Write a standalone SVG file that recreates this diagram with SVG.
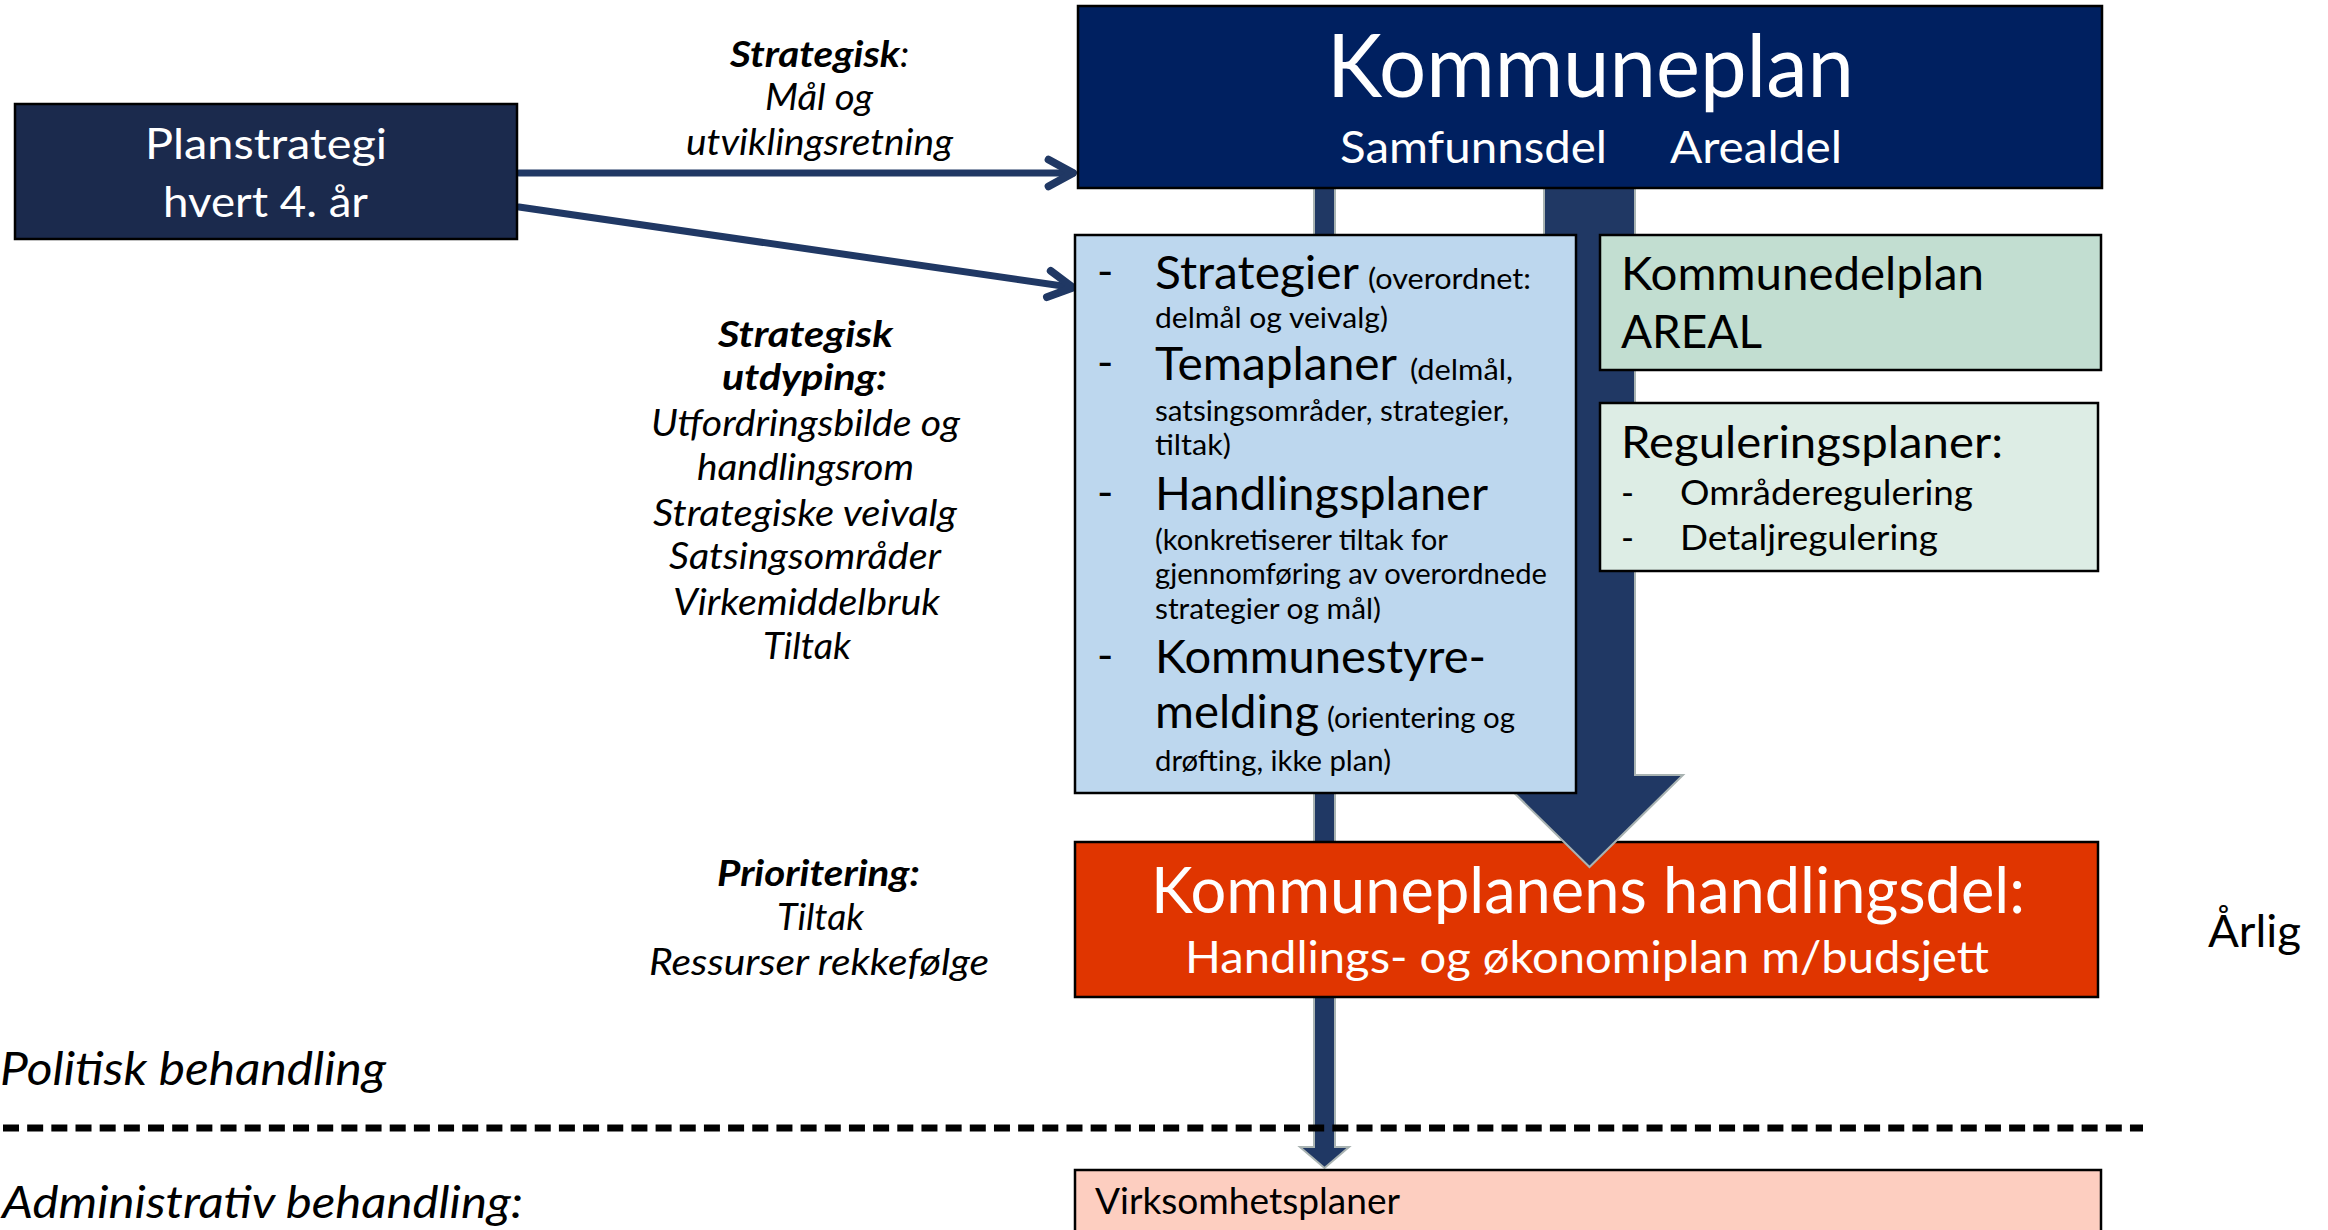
<svg xmlns="http://www.w3.org/2000/svg" width="2328" height="1230" viewBox="0 0 2328 1230">
<style>
text{font-family:Lato,"Liberation Sans",sans-serif;fill:#000}
.w{fill:#fff}
.i{font-style:italic}
.b{font-weight:bold}
.box{stroke:#000;stroke-width:2.5}
.conn{fill:none;stroke:#203864;stroke-width:7;stroke-linecap:round}
.bar{fill:#203864;stroke:#A9B3B2;stroke-width:2}
</style>
<defs>
<marker id="chev" markerUnits="userSpaceOnUse" markerWidth="50" markerHeight="50" viewBox="-35 -20 45 40" refX="0" refY="0" orient="auto">
<path d="M-22,-12 L0,0 L-22,12" fill="none" stroke="#203864" stroke-width="7" stroke-linecap="round" stroke-linejoin="round"/>
</marker>
</defs>
<rect width="2328" height="1230" fill="#fff"/>

<g id="connectors">
<polygon id="arrow-thin" class="bar" points="1314,188 1335,188 1335,1147 1349,1147 1324.5,1168 1300,1147 1314,1147"/>
<line id="dash-divider" x1="3" y1="1128" x2="2143" y2="1128" stroke="#000" stroke-width="7" stroke-dasharray="16 8.17"/>
<line id="arrow-goal" class="conn" x1="519" y1="173" x2="1073" y2="173" marker-end="url(#chev)"/>
<line id="arrow-depth" class="conn" x1="519" y1="207" x2="1073" y2="287.5" marker-end="url(#chev)"/>
</g>

<g id="node-handlingsdel">
<rect class="box" x="1075" y="842" width="1023" height="155" fill="#E03500"/>
<text class="w" x="1151" y="913" font-size="63" textLength="874" lengthAdjust="spacingAndGlyphs">Kommuneplanens handlingsdel:</text>
<text class="w" x="1185" y="973" font-size="45" textLength="804" lengthAdjust="spacingAndGlyphs">Handlings- og økonomiplan m/budsjett</text>
</g>

<g id="node-virksomhetsplaner">
<rect class="box" x="1075" y="1170" width="1026" height="70" fill="#FDCEC0" stroke-width="2"/>
<text x="1095" y="1214" font-size="36" textLength="305" lengthAdjust="spacingAndGlyphs">Virksomhetsplaner</text>
</g>

<g id="arrow-thick-group">
<polygon id="arrow-thick" class="bar" points="1544,188 1635,188 1635,775 1683,775 1589.5,867 1496,775 1544,775"/>
</g>

<g id="node-kommuneplan">
<rect class="box" x="1078" y="6" width="1024" height="182" fill="#002060" stroke-width="3"/>
<text class="w" x="1327" y="97" font-size="87" textLength="527" lengthAdjust="spacingAndGlyphs">Kommuneplan</text>
<text class="w" x="1340" y="163" font-size="44" textLength="267" lengthAdjust="spacingAndGlyphs">Samfunnsdel</text>
<text class="w" x="1670" y="163" font-size="44" textLength="172" lengthAdjust="spacingAndGlyphs">Arealdel</text>
</g>

<g id="node-planstrategi">
<rect class="box" x="15" y="104" width="502" height="135" fill="#1B2A4D"/>
<text class="w" x="145" y="159" font-size="43" textLength="242" lengthAdjust="spacingAndGlyphs">Planstrategi</text>
<text class="w" x="163" y="217" font-size="43" textLength="205" lengthAdjust="spacingAndGlyphs">hvert 4. år</text>
</g>

<g id="node-samfunn">
<rect class="box" x="1075" y="235" width="501" height="558" fill="#BDD7EE"/>
<text x="1097" y="287" font-size="44">-</text>
<text x="1155" y="289" font-size="46" textLength="204" lengthAdjust="spacingAndGlyphs">Strategier</text>
<text x="1368" y="289" font-size="28" textLength="163" lengthAdjust="spacingAndGlyphs">(overordnet:</text>
<text x="1155" y="328" font-size="28" textLength="233" lengthAdjust="spacingAndGlyphs">delmål og veivalg)</text>
<text x="1097" y="378" font-size="44">-</text>
<text x="1155" y="380" font-size="46" textLength="242" lengthAdjust="spacingAndGlyphs">Temaplaner</text>
<text x="1410" y="380" font-size="28" textLength="103" lengthAdjust="spacingAndGlyphs">(delmål,</text>
<text x="1155" y="421" font-size="28" textLength="354" lengthAdjust="spacingAndGlyphs">satsingsområder, strategier,</text>
<text x="1155" y="455" font-size="28" textLength="76" lengthAdjust="spacingAndGlyphs">tiltak)</text>
<text x="1097" y="508" font-size="44">-</text>
<text x="1155" y="510" font-size="46" textLength="333" lengthAdjust="spacingAndGlyphs">Handlingsplaner</text>
<text x="1155" y="550" font-size="28" textLength="293" lengthAdjust="spacingAndGlyphs">(konkretiserer tiltak for</text>
<text x="1155" y="584" font-size="28" textLength="392" lengthAdjust="spacingAndGlyphs">gjennomføring av overordnede</text>
<text x="1155" y="619" font-size="28" textLength="226" lengthAdjust="spacingAndGlyphs">strategier og mål)</text>
<text x="1097" y="671" font-size="44">-</text>
<text x="1155" y="673" font-size="46" textLength="331" lengthAdjust="spacingAndGlyphs">Kommunestyre-</text>
<text x="1155" y="728" font-size="46" textLength="164" lengthAdjust="spacingAndGlyphs">melding</text>
<text x="1327" y="728" font-size="28" textLength="188" lengthAdjust="spacingAndGlyphs">(orientering og</text>
<text x="1155" y="771" font-size="28" textLength="236" lengthAdjust="spacingAndGlyphs">drøfting, ikke plan)</text>
</g>

<g id="node-kommunedelplan">
<rect class="box" x="1600" y="235" width="501" height="135" fill="#C2DED1"/>
<text x="1621" y="290" font-size="46" textLength="363" lengthAdjust="spacingAndGlyphs">Kommunedelplan</text>
<text x="1621" y="348" font-size="46" textLength="141" lengthAdjust="spacingAndGlyphs">AREAL</text>
</g>

<g id="node-regulering">
<rect class="box" x="1600" y="403" width="498" height="168" fill="#DDEDE5"/>
<text x="1621" y="458" font-size="44" textLength="382" lengthAdjust="spacingAndGlyphs">Reguleringsplaner:</text>
<text x="1621" y="505" font-size="35">-</text>
<text x="1680" y="505" font-size="35" textLength="293" lengthAdjust="spacingAndGlyphs">Områderegulering</text>
<text x="1621" y="550" font-size="35">-</text>
<text x="1680" y="550" font-size="35" textLength="258" lengthAdjust="spacingAndGlyphs">Detaljregulering</text>
</g>

<g id="label-strategisk">
<text class="i b" x="730" y="67" font-size="37" textLength="170" lengthAdjust="spacingAndGlyphs">Strategisk</text>
<text class="i" x="900" y="67" font-size="37">:</text>
<text class="i" x="765" y="110" font-size="36" textLength="108" lengthAdjust="spacingAndGlyphs">Mål og</text>
<text class="i" x="686" y="155" font-size="36" textLength="267" lengthAdjust="spacingAndGlyphs">utviklingsretning</text>
</g>

<g id="label-utdyping">
<text class="i b" x="718" y="347" font-size="37" textLength="175" lengthAdjust="spacingAndGlyphs">Strategisk</text>
<text class="i b" x="722" y="390" font-size="37" textLength="165" lengthAdjust="spacingAndGlyphs">utdyping:</text>
<text class="i" x="651" y="436" font-size="36" textLength="309" lengthAdjust="spacingAndGlyphs">Utfordringsbilde og</text>
<text class="i" x="697" y="480" font-size="36" textLength="217" lengthAdjust="spacingAndGlyphs">handlingsrom</text>
<text class="i" x="653" y="526" font-size="36" textLength="304" lengthAdjust="spacingAndGlyphs">Strategiske veivalg</text>
<text class="i" x="669" y="569" font-size="36" textLength="272" lengthAdjust="spacingAndGlyphs">Satsingsområder</text>
<text class="i" x="673" y="615" font-size="36" textLength="267" lengthAdjust="spacingAndGlyphs">Virkemiddelbruk</text>
<text class="i" x="763" y="659" font-size="36" textLength="88" lengthAdjust="spacingAndGlyphs">Tiltak</text>
</g>

<g id="label-prioritering">
<text class="i b" x="717" y="886" font-size="37" textLength="203" lengthAdjust="spacingAndGlyphs">Prioritering:</text>
<text class="i" x="777" y="930" font-size="36" textLength="87" lengthAdjust="spacingAndGlyphs">Tiltak</text>
<text class="i" x="649" y="975" font-size="36" textLength="340" lengthAdjust="spacingAndGlyphs">Ressurser rekkefølge</text>
</g>

<g id="label-arlig">
<text x="2208" y="947" font-size="45" textLength="93" lengthAdjust="spacingAndGlyphs">Årlig</text>
</g>

<g id="label-politisk">
<text class="i" x="0" y="1085" font-size="46" textLength="386" lengthAdjust="spacingAndGlyphs">Politisk behandling</text>
</g>

<g id="label-administrativ">
<text class="i" x="2" y="1218" font-size="45" textLength="521" lengthAdjust="spacingAndGlyphs">Administrativ behandling:</text>
</g>
</svg>
